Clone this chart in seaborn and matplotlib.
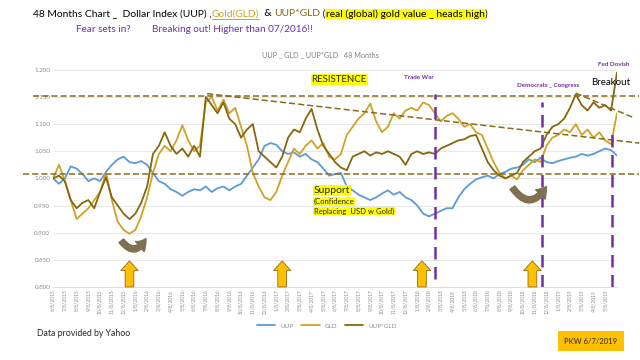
import numpy as np
import pandas as pd
import matplotlib
matplotlib.use("Agg")
import matplotlib.pyplot as plt
import seaborn as sns

uup = [1.000, 0.990, 1.000, 1.022, 1.018, 1.008, 0.995, 1.000, 0.995, 1.012,
       1.025, 1.035, 1.040, 1.030, 1.028, 1.032, 1.025, 1.010, 0.995, 0.990,
       0.980, 0.975, 0.968, 0.975, 0.980, 0.978, 0.985, 0.975, 0.982, 0.985,
       0.978, 0.985, 0.990, 1.005, 1.020, 1.035, 1.060, 1.065, 1.062, 1.050,
       1.045, 1.048, 1.040, 1.045, 1.035, 1.030, 1.018, 1.005, 1.008, 1.010,
       0.985, 0.978, 0.970, 0.965, 0.960, 0.965, 0.972, 0.978, 0.970, 0.975,
       0.965, 0.960, 0.950, 0.935, 0.930, 0.935, 0.940, 0.945, 0.945, 0.965,
       0.980, 0.990, 0.998, 1.002, 1.005, 1.000, 1.008, 1.012, 1.018, 1.020,
       1.025, 1.035, 1.030, 1.038, 1.030, 1.028, 1.032, 1.035, 1.038, 1.040,
       1.045, 1.042, 1.045, 1.050, 1.055, 1.052, 1.042]

gld = [1.000, 1.025, 0.995, 0.960, 0.925, 0.935, 0.945, 0.960, 0.975, 1.010,
       0.960, 0.920, 0.905, 0.898, 0.905, 0.930, 0.965, 1.010, 1.045, 1.060,
       1.050, 1.070, 1.098, 1.070, 1.050, 1.060, 1.140, 1.150, 1.125, 1.145,
       1.120, 1.130, 1.095, 1.060, 1.010, 0.985, 0.965, 0.960, 0.975, 1.005,
       1.030, 1.055, 1.045, 1.060, 1.070, 1.055, 1.065, 1.040, 1.035, 1.045,
       1.080, 1.095, 1.110, 1.120, 1.138, 1.105, 1.085, 1.095, 1.120, 1.110,
       1.125, 1.130, 1.125, 1.140, 1.135, 1.120, 1.105, 1.115, 1.120, 1.110,
       1.095, 1.100, 1.085, 1.080, 1.055, 1.030, 1.010, 1.000, 1.005, 0.998,
       1.015, 1.025, 1.035, 1.030, 1.060, 1.075, 1.080, 1.090, 1.085, 1.100,
       1.080, 1.090, 1.075, 1.085, 1.070, 1.063, 1.120]

uup_gld = [1.000, 1.005, 0.995, 0.960, 0.945, 0.955, 0.960, 0.945, 0.975, 1.002,
           0.965, 0.950, 0.935, 0.925, 0.935, 0.955, 0.985, 1.045, 1.060, 1.085,
           1.060, 1.045, 1.055, 1.040, 1.060, 1.040, 1.150, 1.135, 1.120, 1.140,
           1.110, 1.100, 1.075, 1.090, 1.100, 1.050, 1.040, 1.030, 1.020, 1.040,
           1.075, 1.090, 1.085, 1.110, 1.128, 1.090, 1.060, 1.045, 1.030, 1.020,
           1.015, 1.040, 1.045, 1.050, 1.042, 1.048, 1.045, 1.050, 1.045, 1.040,
           1.025, 1.045, 1.050, 1.045, 1.048, 1.045, 1.055, 1.060, 1.065, 1.070,
           1.072, 1.078, 1.080, 1.055, 1.030, 1.015, 1.005, 1.000, 1.005, 1.010,
           1.030, 1.040, 1.050, 1.055, 1.080, 1.095, 1.100, 1.110, 1.130, 1.155,
           1.135, 1.125, 1.140, 1.130, 1.135, 1.125, 1.195]

month_labels = [f"{(5 + i) % 12 + 1}/8/{2015 + (5 + i) // 12}" for i in range(48)]
y_ticks = [0.800, 0.850, 0.900, 0.950, 1.000, 1.050, 1.100, 1.150, 1.200]

# Markierungen (in Monaten ab 6/2015)
event_months = [32.5, 41.6, 47.6]
arrow_months = [6.5, 19.5, 31.4, 40.8]
resistance = 1.152
support = 1.008

blue = "#5B9BD5"
gold = "#CFA227"
brown = "#86660F"
purple = "#7030A0"

months = np.arange(len(uup)) / 2
df = pd.DataFrame({"Monat": np.tile(months, 3),
                   "Wert": uup + gld + uup_gld,
                   "Serie": ["UUP"] * len(uup) + ["GLD"] * len(gld) + ["UUP*GLD"] * len(uup_gld)})

sns.set_theme(style="white")
plt.rcParams["font.family"] = ["Lato", "DejaVu Sans"]

fig = plt.figure(figsize=(6.4, 3.6), dpi=100)
ax = fig.add_axes([0.083, 0.203, 0.881, 0.603])

sns.lineplot(data=df, x="Monat", y="Wert", hue="Serie",
             palette={"UUP": blue, "GLD": gold, "UUP*GLD": brown},
             linewidth=1.3, ax=ax)

ax.set_xlim(0, 48)
ax.set_ylim(0.8, 1.2)
ax.set_yticks(y_ticks)
ax.set_yticklabels([f"{v:.3f}" for v in y_ticks], fontsize=4.5, color="#8C8C8C")
ax.set_xticks(np.arange(48))
ax.set_xticklabels(month_labels, rotation=90, fontsize=3.6, color="#8C8C8C")
ax.tick_params(length=0, pad=2)
ax.set_xlabel("")
ax.set_ylabel("")
ax.grid(axis="y", color="#E3E3E3", linewidth=0.6)
for s in ["top", "right", "left"]:
    ax.spines[s].set_visible(False)
ax.spines["bottom"].set_color("#D9D9D9")
ax.spines["bottom"].set_linewidth(0.6)

sns.move_legend(ax, "center", bbox_to_anchor=(0.485, -0.18), ncol=3, frameon=False,
                title=None, fontsize=4.5, handlelength=3, columnspacing=1.2)
for txt in ax.get_legend().get_texts():
    txt.set_color("#8C8C8C")

# Widerstand / Unterstuetzung
dash = dict(color="#8B6A1A", linewidth=1.1, linestyle=(0, (4, 2)), clip_on=False)
ax.plot([-1.7, 49.9], [resistance, resistance], **dash)
ax.plot([-2.6, 49.9], [support, support], **dash)
ax.plot([13.1, 49.9], [1.156, 1.065], **dash)
ax.plot([44.5, 49.4], [1.157, 1.112], **dash)

# Ereignislinien
ax.plot([event_months[0]] * 2, [0.815, 1.155], color=purple, lw=1.8, ls=(0, (5, 3)))
ax.plot([event_months[1]] * 2, [0.800, 1.140], color=purple, lw=1.8, ls=(0, (5, 3)))
ax.plot([event_months[2]] * 2, [0.800, 1.090], color=purple, lw=1.8, ls=(0, (5, 3)))

for m in arrow_months:
    ax.annotate("", xy=(m, 0.848), xytext=(m, 0.800),
                arrowprops=dict(arrowstyle="simple,head_length=0.5,head_width=0.9,tail_width=0.45",
                                fc="#FFC000", ec="#8C6D1F", lw=0.6, mutation_scale=14,
                                shrinkA=0, shrinkB=0),
                annotation_clip=False)

for a, b in [((5.8, 0.885), (7.9, 0.889)), ((39.1, 0.983), (42.0, 0.985))]:
    ax.annotate("", xy=b, xytext=a,
                arrowprops=dict(arrowstyle="simple,head_length=0.6,head_width=0.8,tail_width=0.35",
                                connectionstyle="arc3,rad=0.75", fc="#7F7050", ec="#7F7050",
                                mutation_scale=12, shrinkA=0, shrinkB=0))

# Beschriftungen im Diagramm
hl = dict(boxstyle="square,pad=0.1", fc="#FFFF00", ec="none")
ax.text(22.0, 1.182, "RESISTENCE", fontsize=7, va="center", ha="left", bbox=hl)
ax.text(22.2, 0.978, "Support", fontsize=7.5, va="center", ha="left", bbox=hl)
ax.text(22.2, 0.958, "(Confidence", fontsize=5.5, va="center", ha="left", bbox=hl)
ax.text(22.2, 0.940, "Replacing  USD w Gold)", fontsize=5.5, va="center", ha="left", bbox=hl)
ax.text(31.1, 1.186, "Trade War", fontsize=4.5, color=purple, fontweight="bold", ha="center", va="center")
ax.text(42.1, 1.172, "Democrats _ Congress", fontsize=4.5, color=purple, fontweight="bold", ha="center", va="center")
ax.text(47.7, 1.209, "Fed Dovish", fontsize=4.5, color=purple, fontweight="bold", ha="center", va="center", clip_on=False)
ax.text(47.5, 1.177, "Breakout", fontsize=7, color="black", ha="center", va="center")

# Titel, Stueck fuer Stueck
fig.canvas.draw()
renderer = fig.canvas.get_renderer()
W, H = fig.get_size_inches() * fig.dpi
x = 33 / W
y = 1 - 14 / H
pieces = [("48 Months Chart _  Dollar Index (UUP) ,", "black", None, False),
          ("Gold(GLD)", gold, None, True),
          ("  & ", "black", None, False),
          ("UUP*GLD", brown, None, False),
          (" (", "black", None, False),
          ("real (global) gold value _ heads high", "black", "#FFFF00", False),
          (")", "black", None, False)]
for s, c, bg, ul in pieces:
    kw = dict(fontsize=7.4, color=c, va="center", ha="left")
    if bg:
        kw["bbox"] = dict(boxstyle="square,pad=0.05", fc=bg, ec="none")
    t = fig.text(x, y, s, **kw)
    bb = t.get_window_extent(renderer)
    if ul:
        fig.add_artist(plt.Line2D([bb.x0 / W, bb.x1 / W], [bb.y0 / H, bb.y0 / H],
                                  color=c, lw=0.7, transform=fig.transFigure))
    x = bb.x1 / W

fig.text(76 / W, 1 - 30 / H, "Fear sets in?", fontsize=7.2, color=purple, va="center", ha="left")
fig.text(152 / W, 1 - 30 / H, "Breaking out! Higher than 07/2016!!", fontsize=7.2, color=purple,
         va="center", ha="left")
fig.text(320 / W, 1 - 55 / H, "UUP _ GLD _ UUP*GLD   48 Months", fontsize=5.2, color="#7F7F7F",
         va="center", ha="center")

fig.text(37 / W, 1 - 333 / H, "Data provided by Yahoo", fontsize=6.3, va="center", ha="left")
fig.text(591 / W, 1 - 341 / H, "PKW 6/7/2019", fontsize=5.5, va="center", ha="center",
         bbox=dict(boxstyle="square,pad=0.8", fc="#FFC000", ec="none"))

fig.savefig("out.png", dpi=100, facecolor="white")
